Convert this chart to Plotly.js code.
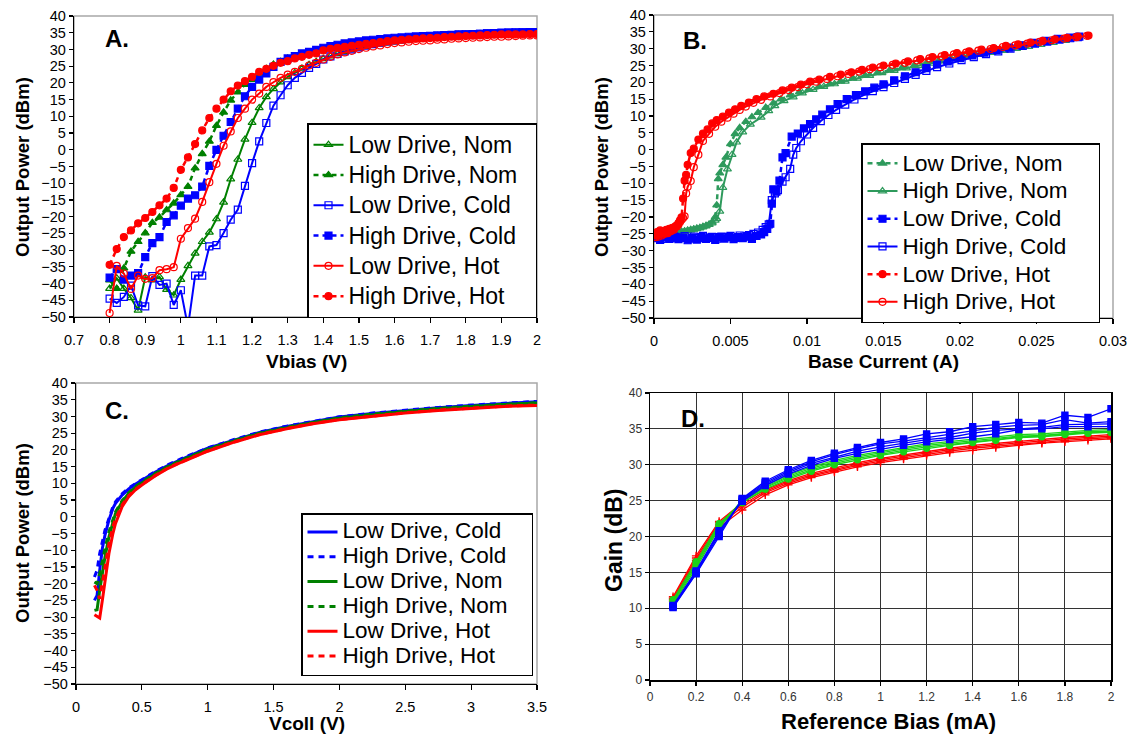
<!DOCTYPE html>
<html><head><meta charset="utf-8">
<script src="https://cdn.plot.ly/plotly-3.0.1.min.js"></script>
<style>body{margin:0;background:#fff}#plot{width:1135px;height:736px}</style>
</head><body><div id="plot"></div>
<script>
// ---------- Panel A: Output power vs Vbias ----------
const vbias = [0.80,0.82,0.84,0.86,0.88,0.90,0.92,0.94,0.96,0.98,1.00,1.02,1.04,1.06,1.08,1.10,1.12,1.14,1.16,1.18,1.20,1.22,1.24,1.26,1.28,1.30,1.32,1.34,1.36,1.38,1.40,1.42,1.44,1.46,1.48,1.50,1.52,1.54,1.56,1.58,1.60,1.62,1.64,1.66,1.68,1.70,1.72,1.74,1.76,1.78,1.80,1.82,1.84,1.86,1.88,1.90,1.92,1.94,1.96,1.98,2.00];
const aLowNom  = [-41.5,-38.4,-41.5,-44.3,-48.0,-38.1,-39.0,-38.0,-41.8,-43.5,-38.8,-34.7,-31.0,-27.5,-24.7,-20.7,-15.7,-8.8,-2.9,3.1,8.1,12.5,15.8,18.2,20.2,21.8,23.0,24.3,25.4,26.3,27.2,28.0,28.7,29.3,29.9,30.4,30.8,31.2,31.6,31.9,32.2,32.5,32.8,33.0,33.2,33.4,33.6,33.7,33.9,34.0,34.1,34.2,34.3,34.4,34.5,34.6,34.7,34.7,34.8,34.8,34.9];
const aHighNom = [-39.0,-41.5,-35.4,-30.4,-27.5,-24.9,-21.8,-20.2,-18.0,-16.0,-13.5,-11.0,-5.5,-1.2,2.5,7.2,11.2,14.8,17.2,19.5,21.0,22.8,24.2,25.5,26.3,27.3,27.8,28.4,29.0,29.5,30.0,30.5,30.9,31.3,31.6,31.9,32.2,32.4,32.7,32.9,33.1,33.3,33.5,33.6,33.8,33.9,34.0,34.1,34.2,34.3,34.4,34.5,34.6,34.6,34.7,34.8,34.8,34.9,34.9,35.0,35.0];
const aLowCold = [-44.5,-45.8,-44.0,-40.6,-46.5,-46.8,-37.8,-40.4,-40.0,-46.4,-42.0,-53.0,-37.6,-37.6,-28.9,-28.5,-24.9,-20.9,-17.9,-10.8,-4.0,2.5,8.0,13.2,16.3,19.3,21.5,23.0,24.5,25.7,27.0,27.9,28.7,29.4,30.0,30.6,31.1,31.6,32.0,32.4,32.7,33.0,33.3,33.5,33.7,33.9,34.0,34.2,34.3,34.4,34.5,34.6,34.7,34.8,34.9,35.0,35.0,35.1,35.1,35.2,35.2];
const aHighCold= [-38.2,-35.7,-38.8,-37.6,-36.9,-32.1,-27.9,-26.1,-21.6,-19.6,-16.7,-14.6,-13.6,-11.0,-4.8,0.0,4.2,8.3,12.3,16.0,18.8,21.0,22.8,24.8,26.3,27.3,28.0,28.8,29.3,29.9,30.5,31.0,31.4,31.8,32.1,32.4,32.7,32.9,33.1,33.3,33.5,33.6,33.8,33.9,34.0,34.1,34.2,34.3,34.4,34.5,34.5,34.6,34.7,34.8,34.8,34.9,35.0,35.0,35.1,35.1,35.2];
const aLowHot  = [-48.8,-34.7,-37.0,-41.6,-37.6,-38.6,-38.4,-36.0,-35.7,-35.1,-26.6,-23.4,-20.6,-15.6,-9.7,-4.2,1.2,5.5,9.5,12.3,15.0,16.8,18.8,20.2,21.5,22.5,23.3,24.2,25.2,26.0,27.0,27.8,28.5,29.1,29.6,30.1,30.5,30.9,31.2,31.6,31.9,32.1,32.3,32.5,32.6,32.7,32.9,33.0,33.2,33.3,33.4,33.5,33.6,33.7,33.8,33.8,33.9,34.0,34.1,34.2,34.2];
const aHighHot = [-34.4,-29.7,-26.1,-24.1,-22.0,-20.4,-18.6,-16.6,-14.6,-11.4,-6.0,-2.3,1.7,5.8,9.5,12.3,15.0,17.5,19.2,20.5,21.8,23.3,24.2,25.1,26.0,26.5,27.3,27.8,28.4,28.8,29.7,30.2,30.5,30.8,31.1,31.4,31.7,31.9,32.2,32.5,32.7,32.9,33.0,33.2,33.3,33.4,33.5,33.7,33.8,33.9,34.0,34.1,34.2,34.3,34.4,34.5,34.5,34.5,34.5,34.6,34.6];

// ---------- Panel B: Output power vs base current ----------
const bLowNomX  = [0.0002,0.0004,0.0006,0.0008,0.0010,0.0012,0.0014,0.0016,0.0018,0.0020,0.0022,0.0024,0.0026,0.0028,0.0030,0.0032,0.0034,0.0036,0.0038,0.0040,0.0041,0.0042,0.0043,0.0045,0.0047,0.0050,0.0053,0.0056,0.0060,0.0064,0.0068,0.0073,0.0078,0.0083,0.0089,0.0095,0.0101,0.0108,0.0115,0.0122,0.0130,0.0138,0.0146,0.0154,0.0162,0.0170,0.0178,0.0186,0.0194,0.0202,0.0210,0.0218,0.0226,0.0234,0.0242,0.0250,0.0258,0.0266,0.0274];
const bLowNomY  = [-25.5,-25.2,-25.0,-24.9,-24.8,-24.7,-24.6,-24.5,-24.3,-24.2,-24.0,-23.8,-23.6,-23.4,-23.2,-22.9,-22.6,-22.2,-21.5,-20.0,-16.5,-8.7,-7.0,-4.5,-2.3,1.7,4.7,6.5,8.3,9.7,11.0,12.5,13.8,15.0,16.2,17.1,17.8,18.7,19.5,20.3,21.2,22.0,22.8,23.6,24.3,25.0,25.7,26.4,27.1,27.8,28.4,29.0,29.6,30.2,30.8,31.4,32.0,32.6,33.1];
const bHighNomX = [0.0002,0.0004,0.0006,0.0008,0.0010,0.0012,0.0014,0.0016,0.0018,0.0020,0.0022,0.0024,0.0026,0.0028,0.0030,0.0032,0.0034,0.0036,0.0038,0.0040,0.0041,0.0043,0.0045,0.0048,0.0051,0.0054,0.0058,0.0063,0.0070,0.0075,0.0079,0.0085,0.0091,0.0097,0.0104,0.0111,0.0118,0.0125,0.0133,0.0141,0.0149,0.0157,0.0165,0.0173,0.0181,0.0189,0.0197,0.0205,0.0213,0.0221,0.0229,0.0237,0.0245,0.0253,0.0261,0.0269,0.0276];
const bHighNomY = [-25.8,-25.5,-25.3,-25.1,-25.0,-24.9,-24.8,-24.6,-24.5,-24.3,-24.1,-23.9,-23.7,-23.5,-23.3,-23.0,-22.7,-22.3,-21.8,-21.0,-20.5,-18.3,-11.3,-5.8,-1.5,2.2,5.2,7.5,9.6,11.5,13.0,14.5,15.6,16.8,17.8,18.7,19.5,20.3,21.2,22.0,22.8,23.5,24.2,24.9,25.6,26.3,27.0,27.6,28.2,28.8,29.4,30.0,30.6,31.2,31.8,32.4,33.0];
const bLowColdX = [0.0001,0.0004,0.0007,0.0010,0.0013,0.0016,0.0019,0.0022,0.0025,0.0028,0.0031,0.0034,0.0037,0.0040,0.0043,0.0046,0.0049,0.0052,0.0055,0.0058,0.0061,0.0064,0.0067,0.0070,0.0072,0.0074,0.0076,0.0077,0.0078,0.0080,0.0082,0.0084,0.0086,0.0090,0.0094,0.0098,0.0102,0.0106,0.0110,0.0115,0.0120,0.0126,0.0132,0.0138,0.0144,0.0150,0.0157,0.0164,0.0171,0.0178,0.0185,0.0192,0.0200,0.0208,0.0216,0.0224,0.0232,0.0240,0.0248,0.0256,0.0264,0.0272,0.0278];
const bLowColdY = [-26.3,-26.8,-26.0,-26.5,-25.8,-26.6,-26.1,-26.9,-26.2,-26.7,-26.0,-26.5,-26.2,-26.8,-26.0,-26.4,-25.9,-26.6,-26.0,-26.3,-25.7,-26.5,-25.6,-25.2,-24.5,-23.5,-22.0,-16.0,-11.8,-12.5,-9.2,-2.3,-1.0,3.9,4.8,6.3,7.6,9.0,10.4,12.0,13.5,15.0,16.2,17.3,18.4,19.4,20.6,21.8,23.0,24.2,25.3,26.2,27.2,28.0,28.8,29.6,30.3,31.0,31.7,32.3,32.9,33.3,33.6];
const bHighColdX= [0.0002,0.0005,0.0008,0.0011,0.0014,0.0017,0.0020,0.0023,0.0026,0.0029,0.0032,0.0035,0.0038,0.0041,0.0044,0.0047,0.0050,0.0053,0.0056,0.0059,0.0062,0.0065,0.0068,0.0071,0.0073,0.0075,0.0077,0.0079,0.0081,0.0084,0.0086,0.0089,0.0091,0.0093,0.0096,0.0100,0.0104,0.0109,0.0114,0.0119,0.0125,0.0131,0.0137,0.0143,0.0150,0.0157,0.0164,0.0171,0.0178,0.0185,0.0193,0.0201,0.0209,0.0217,0.0225,0.0233,0.0241,0.0249,0.0257,0.0265,0.0272,0.0277];
const bHighColdY= [-26.0,-26.5,-25.8,-26.3,-25.9,-26.2,-25.7,-26.4,-25.8,-26.3,-25.6,-26.1,-25.9,-26.4,-25.8,-26.0,-25.6,-26.2,-25.5,-25.8,-25.4,-25.0,-24.6,-23.8,-23.0,-22.2,-15.0,-13.0,-12.0,-9.5,-8.2,-5.7,-1.5,0.5,2.5,4.5,6.5,8.5,10.3,11.8,13.4,14.9,16.2,17.4,18.6,19.8,21.0,22.2,23.4,24.5,25.6,26.6,27.5,28.4,29.2,30.0,30.8,31.5,32.1,32.7,33.1,33.4];
const bLowHotX  = [0.0001,0.0002,0.0003,0.0004,0.0005,0.0006,0.0007,0.0008,0.0009,0.0010,0.0011,0.0012,0.0013,0.0014,0.0015,0.0016,0.0017,0.0018,0.0019,0.0020,0.0021,0.0022,0.0024,0.0026,0.0029,0.0032,0.0035,0.0038,0.0041,0.0045,0.0049,0.0053,0.0057,0.0062,0.0067,0.0072,0.0078,0.0084,0.0090,0.0096,0.0102,0.0108,0.0115,0.0122,0.0129,0.0136,0.0143,0.0150,0.0158,0.0166,0.0174,0.0182,0.0190,0.0198,0.0206,0.0214,0.0222,0.0230,0.0238,0.0246,0.0254,0.0262,0.0270,0.0277,0.0284];
const bLowHotY  = [-25.5,-24.5,-25.2,-24.0,-25.0,-24.2,-24.8,-23.8,-24.5,-23.5,-24.0,-23.2,-23.5,-22.8,-22.5,-21.8,-21.0,-20.1,-14.5,-9.2,-7.5,-4.5,-1.0,0.3,3.0,4.8,6.0,7.8,8.8,9.8,11.0,12.0,13.0,14.0,15.0,15.8,16.6,17.6,18.4,19.3,20.2,20.8,21.6,22.3,23.0,23.7,24.4,25.0,25.6,26.2,26.9,27.5,28.1,28.7,29.2,29.7,30.2,30.8,31.3,31.8,32.3,32.8,33.2,33.6,33.9];
const bHighHotX = [0.0001,0.0002,0.0003,0.0004,0.0005,0.0006,0.0007,0.0008,0.0009,0.0010,0.0011,0.0012,0.0013,0.0014,0.0015,0.0016,0.0017,0.0018,0.0019,0.0020,0.0021,0.0022,0.0024,0.0026,0.0029,0.0032,0.0036,0.0040,0.0044,0.0048,0.0052,0.0056,0.0060,0.0065,0.0070,0.0076,0.0082,0.0088,0.0094,0.0100,0.0106,0.0113,0.0120,0.0127,0.0134,0.0141,0.0148,0.0156,0.0164,0.0172,0.0180,0.0188,0.0196,0.0204,0.0212,0.0220,0.0228,0.0236,0.0244,0.0252,0.0260,0.0268,0.0276,0.0283];
const bHighHotY = [-26.0,-25.2,-25.8,-24.8,-25.5,-24.6,-25.0,-24.2,-24.8,-24.0,-24.2,-23.6,-23.8,-23.0,-22.8,-22.2,-21.5,-20.8,-20.3,-19.8,-13.0,-11.0,-9.3,-5.2,-1.5,2.6,4.7,6.8,8.3,9.5,10.7,11.8,12.8,13.9,14.8,15.8,16.8,17.7,18.6,19.4,20.2,21.0,21.8,22.5,23.2,23.9,24.5,25.2,25.8,26.5,27.1,27.7,28.3,28.8,29.4,29.9,30.5,31.0,31.5,32.0,32.5,33.0,33.4,33.8];

// ---------- Panel C: Output power vs Vcoll ----------
const vcoll     = [0.14,0.16,0.18,0.20,0.22,0.25,0.28,0.30,0.35,0.40,0.45,0.50,0.60,0.70,0.80,0.90,1.00,1.20,1.40,1.60,1.80,2.00,2.25,2.50,2.75,3.00,3.25,3.50];
const cLowCold  = [-25.0,-23.5,-16.0,-9.5,-5.5,-1.0,2.5,4.0,6.5,8.3,9.7,10.9,13.3,15.4,17.2,18.9,20.5,23.0,25.3,27.0,28.5,29.8,30.9,31.8,32.6,33.3,33.9,34.4];
const cHighCold = [-18.0,-16.0,-11.0,-7.0,-4.0,-0.5,3.0,4.5,6.9,8.6,9.9,11.1,13.5,15.6,17.4,19.0,20.6,23.1,25.4,27.1,28.6,29.9,31.0,31.9,32.7,33.4,34.0,34.5];
const cLowNom   = [-28.0,-27.8,-22.0,-17.0,-12.0,-6.0,-1.5,1.0,4.5,7.0,8.8,10.2,12.8,15.0,16.8,18.5,20.1,22.7,25.0,26.7,28.2,29.5,30.6,31.5,32.3,33.0,33.6,34.0];
const cHighNom  = [-19.5,-20.0,-17.0,-13.0,-9.5,-4.5,-0.5,1.5,4.8,7.2,9.0,10.4,12.9,15.1,16.9,18.6,20.2,22.8,25.1,26.8,28.3,29.6,30.7,31.6,32.4,33.1,33.7,34.1];
const cLowHot   = [-29.3,-29.8,-30.3,-25.0,-19.0,-11.0,-5.0,-2.0,3.0,6.0,8.0,9.5,12.2,14.5,16.3,18.0,19.6,22.3,24.6,26.3,27.8,29.0,30.1,31.0,31.8,32.5,33.0,33.3];
const cHighHot  = [-20.5,-22.0,-24.5,-20.0,-15.0,-8.0,-3.0,-0.5,3.5,6.3,8.2,9.7,12.3,14.6,16.4,18.1,19.7,22.4,24.7,26.4,27.9,29.1,30.2,31.1,31.9,32.6,33.1,33.4];

// ---------- Panel D: Gain vs reference bias ----------
const refBias = [0.1,0.2,0.3,0.4,0.5,0.6,0.7,0.8,0.9,1.0,1.1,1.2,1.3,1.4,1.5,1.6,1.7,1.8,1.9,2.0];
const dBlue1 = [10.1,14.8,20.0,25.3,27.7,29.3,30.6,31.6,32.4,33.1,33.6,34.3,34.6,35.3,35.6,35.9,35.8,36.9,36.6,37.8];
const dBlue2 = [10.2,14.9,20.3,25.2,27.5,29.1,30.4,31.4,32.2,32.9,33.3,33.8,34.3,34.8,35.2,35.5,35.6,36.3,35.8,36.0];
const dBlue3 = [10.3,15.0,20.6,25.1,27.3,28.9,30.2,31.1,31.9,32.5,33.0,33.5,33.8,34.4,34.8,35.0,35.2,35.6,35.6,35.7];
const dBlue4 = [10.4,15.2,20.8,24.9,27.1,28.7,29.9,30.9,31.6,32.2,32.7,33.2,33.5,33.9,34.3,34.9,35.0,35.3,35.3,35.3];
const dGreen1 = [10.6,15.6,21.2,25.1,27.1,28.6,29.7,30.6,31.3,31.9,32.4,32.9,33.2,33.6,33.9,34.2,34.3,34.6,34.8,34.9];
const dGreen2 = [10.8,15.9,21.4,25.0,26.9,28.4,29.5,30.4,31.1,31.7,32.2,32.7,33.0,33.4,33.7,34.0,34.1,34.4,34.6,34.7];
const dGreen3 = [11.0,16.2,21.6,24.9,26.8,28.2,29.3,30.2,30.9,31.5,32.0,32.5,32.8,33.2,33.5,33.9,34.0,34.3,34.5,34.6];
const dGreen4 = [11.2,16.5,21.8,24.7,26.6,28.0,29.1,30.0,30.7,31.3,31.8,32.3,32.7,33.1,33.4,33.8,33.9,34.2,34.4,34.5];
const dRed1 = [11.6,17.3,22.1,24.7,26.5,27.8,28.8,29.6,30.3,30.9,31.4,31.9,32.3,32.7,33.0,33.3,33.5,33.8,34.0,34.2];
const dRed2 = [11.4,17.0,21.9,24.4,26.3,27.6,28.6,29.4,30.1,30.7,31.2,31.7,32.1,32.5,32.8,33.1,33.3,33.6,33.8,34.0];
const dRed3 = [11.2,16.7,21.6,24.1,26.1,27.4,28.4,29.2,29.9,30.5,31.0,31.5,31.9,32.3,32.6,32.9,33.1,33.4,33.6,33.8];
const dRed4 = [11.0,16.4,21.3,23.7,25.8,27.2,28.2,29.0,29.7,30.3,30.8,31.3,31.7,32.0,32.4,32.7,33.0,33.2,33.4,33.6];

// ---------- styles ----------
const FONT = 'Liberation Sans, Arial, Helvetica, sans-serif';
const RED = '#ff0000', BLUE = '#0000ff', GRN_A = '#008000', GRN_B = '#2e9a5c', GRN_D = '#19d219';
const DOT = '5px,4px';
const big = (t, s, pad) => '<span style="font-size:' + s + 'px">' + t + '&nbsp;'.repeat(pad) + '</span>';

function mk(x, y, name, color, symbol, dashed, xa, ya, leg, fs, pad) {
  return {
    type: 'scatter', mode: 'lines+markers', x: x, y: y, name: big(name, fs, pad),
    xaxis: xa, yaxis: ya, legend: leg,
    line: {color: color, width: dashed ? 2.5 : 2, dash: dashed ? DOT : 'solid'},
    marker: {color: color, symbol: symbol, size: 7, line: {color: color, width: 1.2}}
  };
}
function ln(x, y, name, color, dashed) {
  return {
    type: 'scatter', mode: 'lines', x: x, y: y, name: big(name, 22.5, 3),
    xaxis: 'x3', yaxis: 'y3', legend: 'legend3',
    line: {color: color, width: 3, dash: dashed ? '6px,5px' : 'solid'}
  };
}
function dl(y, color, symbol) {
  return {
    type: 'scatter', mode: 'lines+markers', x: refBias, y: y, showlegend: false,
    xaxis: 'x4', yaxis: 'y4',
    line: {color: color, width: 1.3},
    marker: {color: color, symbol: symbol, size: 6, line: {color: color, width: 1.4}}
  };
}

const traces = [
  mk(vbias, aLowNom,  'Low Drive, Nom',  GRN_A, 'triangle-up-open', false, 'x', 'y', 'legend', 23, 2),
  mk(vbias, aHighNom, 'High Drive, Nom', GRN_A, 'triangle-up',      true,  'x', 'y', 'legend', 23, 2),
  mk(vbias, aLowCold, 'Low Drive, Cold', BLUE,  'square-open',      false, 'x', 'y', 'legend', 23, 2),
  mk(vbias, aHighCold,'High Drive, Cold',BLUE,  'square',           true,  'x', 'y', 'legend', 23, 2),
  mk(vbias, aLowHot,  'Low Drive, Hot',  RED,   'circle-open',      false, 'x', 'y', 'legend', 23, 2),
  mk(vbias, aHighHot, 'High Drive, Hot', RED,   'circle',           true,  'x', 'y', 'legend', 23, 2),

  mk(bLowNomX,  bLowNomY,  'Low Drive, Nom',  GRN_B, 'triangle-up',      true,  'x2', 'y2', 'legend2', 22.5, 4),
  mk(bHighNomX, bHighNomY, 'High Drive, Nom', GRN_B, 'triangle-up-open', false, 'x2', 'y2', 'legend2', 22.5, 4),
  mk(bLowColdX, bLowColdY, 'Low Drive, Cold', BLUE,  'square',           true,  'x2', 'y2', 'legend2', 22.5, 4),
  mk(bHighColdX,bHighColdY,'High Drive, Cold',BLUE,  'square-open',      false, 'x2', 'y2', 'legend2', 22.5, 4),
  mk(bLowHotX,  bLowHotY,  'Low Drive, Hot',  RED,   'circle',           true,  'x2', 'y2', 'legend2', 22.5, 4),
  mk(bHighHotX, bHighHotY, 'High Drive, Hot', RED,   'circle-open',      false, 'x2', 'y2', 'legend2', 22.5, 4),

  ln(vcoll, cLowCold,  'Low Drive, Cold',  BLUE, false),
  ln(vcoll, cHighCold, 'High Drive, Cold', BLUE, true),
  ln(vcoll, cLowNom,   'Low Drive, Nom',   GRN_A, false),
  ln(vcoll, cHighNom,  'High Drive, Nom',  GRN_A, true),
  ln(vcoll, cLowHot,   'Low Drive, Hot',   RED, false),
  ln(vcoll, cHighHot,  'High Drive, Hot',  RED, true),

  dl(dRed1, RED, 'cross-thin-open'), dl(dRed2, RED, 'cross-thin-open'),
  dl(dRed3, RED, 'cross-thin-open'), dl(dRed4, RED, 'cross-thin-open'),
  dl(dGreen1, GRN_D, 'circle'), dl(dGreen2, GRN_D, 'circle'),
  dl(dGreen3, GRN_D, 'circle'), dl(dGreen4, GRN_D, 'circle'),
  dl(dBlue4, BLUE, 'square'), dl(dBlue3, BLUE, 'square'),
  dl(dBlue2, BLUE, 'square'), dl(dBlue1, BLUE, 'square')
];

const W = 1135, H = 736;
const px = v => v / W, py = v => 1 - v / H;

function xax(l, r, range, dtick, anchor) {
  return {domain: [px(l), px(r)], range: range, dtick: dtick, tick0: 0, anchor: anchor,
    showgrid: false, zeroline: false, showline: true, linecolor: '#000', linewidth: 1.3,
    ticks: 'outside', ticklen: 5, tickcolor: '#000', tickwidth: 1.2,
    tickfont: {family: FONT, size: 14.5, color: '#000'}, ticklabelstandoff: 4, fixedrange: true};
}
function yax(t, b, range, anchor) {
  return {domain: [py(b), py(t)], range: range, dtick: 5, tick0: 0, anchor: anchor,
    showgrid: false, zeroline: false, showline: true, linecolor: '#000', linewidth: 1.3,
    ticks: 'outside', ticklen: 4, tickcolor: '#000', tickwidth: 1.2,
    tickfont: {family: FONT, size: 14.5, color: '#000'}, fixedrange: true};
}
function leg(l, t, fs) {
  return {x: px(l), y: py(t), xanchor: 'left', yanchor: 'top',
    bgcolor: '#fff', bordercolor: '#000', borderwidth: 1.5,
    font: {family: FONT, size: fs, color: '#000'}, tracegroupgap: 0};
}

const layout = {
  width: W, height: H, margin: {l: 0, r: 0, t: 0, b: 0},
  paper_bgcolor: '#fff', plot_bgcolor: '#fff',
  font: {family: FONT, color: '#000'},
  xaxis:  xax(74, 537, [0.7, 2], 0.1, 'y'),
  yaxis:  yax(16, 317, [-50, 40], 'x'),
  xaxis2: xax(654, 1113, [0, 0.03], 0.005, 'y2'),
  yaxis2: yax(15, 318, [-50, 40], 'x2'),
  xaxis3: xax(76, 537, [0, 3.5], 0.5, 'y3'),
  yaxis3: yax(383, 684, [-50, 40], 'x3'),
  xaxis4: Object.assign(xax(650, 1111, [0, 2], 0.2, 'y4'), {
    showgrid: true, gridcolor: '#333', gridwidth: 1, mirror: true, linewidth: 1.5,
    ticklen: 4, tickfont: {family: FONT, size: 12, color: '#333'}, ticklabelstandoff: 1}),
  yaxis4: Object.assign(yax(393, 680, [0, 40], 'x4'), {
    showgrid: true, gridcolor: '#333', gridwidth: 1, mirror: true, linewidth: 1.5,
    ticklen: 4, tickfont: {family: FONT, size: 12, color: '#333'}}),
  legend:  leg(307, 123, 21),
  legend2: leg(861, 143, 19),
  legend3: leg(301, 513, 16.8),
  shapes: [
    ['x', 'y'], ['x2', 'y2'], ['x3', 'y3']
  ].map(([a, b]) => ({type: 'rect', xref: a + ' domain', yref: b + ' domain',
    x0: 0, x1: 1, y0: 0, y1: 1, line: {color: '#a8a8a8', width: 1.5}, layer: 'below'})),
  annotations: []
};

function ann(text, x, y, size, opts) {
  return Object.assign({text: text, xref: 'paper', yref: 'paper', x: px(x), y: py(y),
    showarrow: false, xanchor: 'center', yanchor: 'middle',
    font: {family: FONT, size: size, color: '#000'}}, opts || {});
}
layout.annotations.push(
  ann('<b>A.</b>', 103, 39, 24, {xanchor: 'left'}),
  ann('<b>B.</b>', 681, 40, 24, {xanchor: 'left'}),
  ann('<b>C.</b>', 103, 410, 24, {xanchor: 'left'}),
  ann('<b>D.</b>', 679, 419, 24, {xanchor: 'left'}),
  ann('<b>Output Power (dBm)</b>', 22, 167, 18.5, {textangle: -90}),
  ann('<b>Output Power (dBm)</b>', 601, 167, 18.5, {textangle: -90}),
  ann('<b>Output Power (dBm)</b>', 22, 533, 18.5, {textangle: -90}),
  ann('<b>Gain (dB)</b>', 614, 540, 23, {textangle: -90}),
  ann('<b>Vbias (V)</b>', 306, 361, 19),
  ann('<b>Base Current (A)</b>', 883, 361, 19),
  ann('<b>Vcoll (V)</b>', 307, 723, 19),
  ann('<b>Reference Bias (mA)</b>', 888, 721, 22)
);

Plotly.newPlot('plot', traces, layout, {staticPlot: true, displayModeBar: false});
</script>
</body></html>
